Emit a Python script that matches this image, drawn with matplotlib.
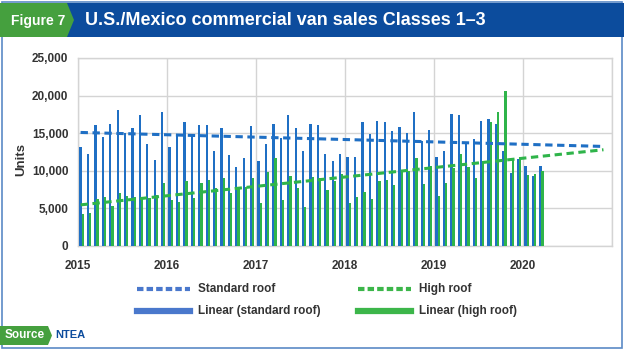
import matplotlib
matplotlib.use("Agg")
import matplotlib.pyplot as plt
from matplotlib.patches import Polygon, Rectangle
from matplotlib.lines import Line2D
import numpy as np

plt.rcParams['font.family'] = ['Liberation Sans', 'DejaVu Sans']

# ---- data (monthly, Jan 2015 - Mar 2020) ----
standard_roof = [13160, 12220, 16040, 14530, 16270, 18130, 15020, 15690, 17470, 13600, 11470, 17820,
                 13160, 14800, 16490, 14800, 16130, 16130, 12670, 15690, 12040, 10490, 11690, 15910,
                 11330, 13600, 16270, 14360, 17380, 15690, 12670, 16270, 16040, 12220, 11330, 12220,
                 11820, 11820, 16440, 14930, 16580, 16440, 15330, 15820, 15020, 17780, 13910, 15470,
                 11820, 12670, 17600, 17380, 13690, 14270, 16580, 16930, 16220, 12580, 9690, 11600,
                 10670, 9330, 10670]
high_roof = [4230, 4360, 6310, 6490, 5330, 7020, 6670, 6490, 6580, 6360, 6800, 8360,
             6130, 5910, 8580, 6360, 8360, 8800, 7690, 9020, 7110, 7910, 7910, 9020,
             5690, 9780, 11690, 6130, 9330, 7690, 5240, 9160, 9020, 7470, 8670, 9560,
             5690, 6490, 7240, 6270, 8580, 8800, 8130, 10000, 9910, 11690, 8220, 10580,
             6670, 8360, 10360, 12220, 10490, 9020, 11240, 16490, 17780, 20580, 11470, 11780,
             9470, 9560, 9910]
month_index = list(range(len(standard_roof)))

# linear trend lines (extended as forecast)
trend_months = [0, 70.5]
standard_trend = [15100, 13240]
high_trend = [5470, 12800]

year_ticks = [2015, 2016, 2017, 2018, 2019, 2020]
y_ticks = [0, 5000, 10000, 15000, 20000, 25000]
legend_labels = ["Standard roof", "High roof", "Linear (standard roof)", "Linear (high roof)"]

# ---- styles ----
BLUE = "#1f6fc4"
GREEN = "#2fb44a"
BAND = "#0c4c9d"
TAB_GREEN = "#45a03e"
FRAME = "#5b8ac6"
TXT = "#333333"

W, H = 624, 350
fig = plt.figure(figsize=(W / 100, H / 100), dpi=100)

def fx(px):
    return px / W

def fy(py):
    return 1 - py / H

# outer frame
fig.patches.append(Rectangle((fx(1.5), fy(347.5)), fx(620), (345.5) / H, transform=fig.transFigure,
                             fill=False, edgecolor=FRAME, linewidth=1.2))
# title band
fig.patches.append(Rectangle((0, fy(37)), 1, 34 / H, transform=fig.transFigure,
                             facecolor=BAND, edgecolor='none'))
# Figure 7 tab
fig.patches.append(Polygon([(0, fy(3)), (fx(67), fy(3)), (fx(74), fy(20)), (fx(67), fy(37)), (0, fy(37))],
                           closed=True, transform=fig.transFigure, facecolor=TAB_GREEN, edgecolor='none'))
fig.text(fx(38), fy(20.5), "Figure 7", color='white', fontsize=10, fontweight='bold',
         ha='center', va='center')
fig.text(fx(85), fy(20.5), "U.S./Mexico commercial van sales Classes 1\u20133", color='white',
         fontsize=13, fontweight='bold', ha='left', va='center')

# Source tab
fig.patches.append(Polygon([(0, fy(326)), (fx(48), fy(326)), (fx(52), fy(335.5)), (fx(48), fy(345)), (0, fy(345))],
                           closed=True, transform=fig.transFigure, facecolor=TAB_GREEN, edgecolor='none'))
fig.text(fx(25), fy(335.5), "Source", color='white', fontsize=8.5, fontweight='bold',
         ha='center', va='center')
fig.text(fx(55), fy(335.5), "NTEA", color=BAND, fontsize=8, fontweight='bold',
         ha='left', va='center')

# ---- main axes ----
ax = fig.add_axes([fx(78), fy(246), fx(612 - 78), (246 - 58) / H])
m = np.array(month_index, dtype=float)
bw = 0.3 / 12
ax.bar(2015 + (m + 0.35) / 12, standard_roof, width=bw, color=BLUE, zorder=3)
ax.bar(2015 + (m + 0.64) / 12, high_roof, width=bw, color=GREEN, zorder=3)

tm = np.array(trend_months)
ax.plot(2015 + (tm + 0.35) / 12, standard_trend, color=BLUE, lw=2.2, dashes=(2.4, 1.5), zorder=4)
ax.plot(2015 + (tm + 0.35) / 12, high_trend, color=GREEN, lw=2.2, dashes=(2.4, 1.5), zorder=4)

ax.set_xlim(2015, 2021)
ax.set_ylim(0, 25000)
ax.set_xticks(year_ticks + [2021])
ax.set_xticklabels([str(y) for y in year_ticks] + [""])
ax.set_yticks(y_ticks)
ax.set_yticklabels([f"{v:,}" for v in y_ticks])
ax.grid(True, color="#d4d4d4", linewidth=1.0, zorder=0)
ax.set_axisbelow(True)
for s in ax.spines.values():
    s.set_color("#d4d4d4")
    s.set_linewidth(1.0)
ax.tick_params(length=0, labelsize=8.5, labelcolor=TXT)
ax.tick_params(axis='y', pad=7)
ax.tick_params(axis='x', pad=10)
for lab in ax.get_xticklabels() + ax.get_yticklabels():
    lab.set_fontweight('bold')
fig.text(fx(21), fy(160), "Units", rotation=90, fontsize=9.5, fontweight='bold', color=TXT,
         ha='center', va='center')

# ---- legend (drawn manually in figure pixels) ----
legend_items = [
    (legend_labels[0], "#4a78cc", True, 137, 289),
    (legend_labels[1], "#3cb64a", True, 358, 289),
    (legend_labels[2], "#4a78cc", False, 137, 311),
    (legend_labels[3], "#3cb64a", False, 358, 311),
]
for label, col, dashed, x0, yrow in legend_items:
    if dashed:
        ln = Line2D([fx(x0), fx(x0 + 53)], [fy(yrow), fy(yrow)], color=col, lw=3,
                    dashes=(1.55, 0.75), transform=fig.transFigure)
    else:
        ln = Line2D([fx(x0), fx(x0 + 53)], [fy(yrow), fy(yrow)], color=col, lw=4.5,
                    transform=fig.transFigure)
    fig.lines.append(ln)
    fig.text(fx(x0 + 61), fy(yrow), label, fontsize=8.5, fontweight='bold', color=TXT,
             ha='left', va='center')

fig.savefig("out.png", dpi=100)
